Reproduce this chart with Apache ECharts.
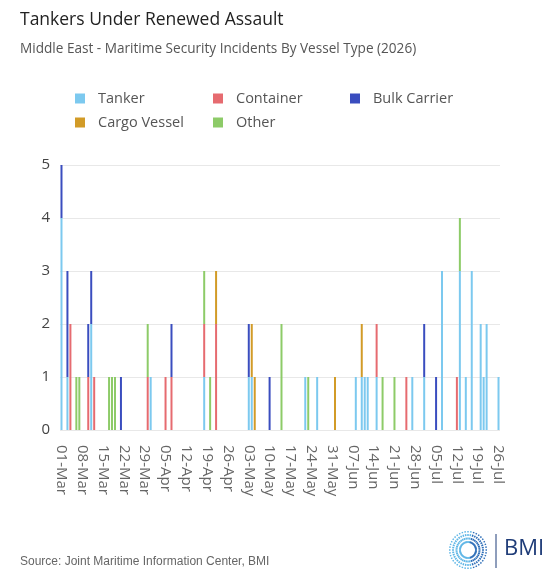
<!DOCTYPE html>
<html>
<head>
<meta charset="utf-8">
<script src="https://cdn.jsdelivr.net/npm/echarts@6/dist/echarts.min.js"></script>
<style>
  html, body { margin: 0; padding: 0; background: #fff; }
  #main { width: 560px; height: 582px; }
</style>
</head>
<body>
<div id="main"></div>
<script>
// categories: every day from 01-Mar to 26-Jul 2026
var monthNames = ['Jan', 'Feb', 'Mar', 'Apr', 'May', 'Jun', 'Jul', 'Aug', 'Sep', 'Oct', 'Nov', 'Dec'];
var dayCount = 148;
var categories = [];
for (var i = 0; i < dayCount; i++) {
    var d = new Date(2026, 2, 1 + i);
    categories.push((d.getDate() < 10 ? '0' : '') + d.getDate() + '-' + monthNames[d.getMonth()]);
}

// incidents per day, by vessel type [day, count]
var tanker = [
    ['01-Mar', 4], ['03-Mar', 1], ['11-Mar', 2], ['31-Mar', 1], ['18-Apr', 1],
    ['03-May', 1], ['04-May', 1], ['22-May', 1], ['26-May', 1], ['08-Jun', 1],
    ['10-Jun', 1], ['11-Jun', 1], ['12-Jun', 1], ['15-Jun', 1], ['27-Jun', 1],
    ['01-Jul', 1], ['07-Jul', 3], ['13-Jul', 3], ['15-Jul', 1], ['17-Jul', 3],
    ['20-Jul', 2], ['21-Jul', 1], ['22-Jul', 2], ['26-Jul', 1]
];
var container = [
    ['04-Mar', 2], ['10-Mar', 1], ['12-Mar', 1], ['30-Mar', 1], ['05-Apr', 1],
    ['07-Apr', 1], ['18-Apr', 1], ['22-Apr', 2], ['15-Jun', 1], ['25-Jun', 1],
    ['12-Jul', 1]
];
var bulkCarrier = [
    ['01-Mar', 1], ['03-Mar', 2], ['10-Mar', 1], ['11-Mar', 1], ['21-Mar', 1],
    ['07-Apr', 1], ['03-May', 1], ['10-May', 1], ['01-Jul', 1], ['05-Jul', 1]
];
var cargoVessel = [
    ['22-Apr', 1], ['04-May', 1], ['05-May', 1], ['01-Jun', 1], ['10-Jun', 1]
];
var other = [
    ['06-Mar', 1], ['07-Mar', 1], ['17-Mar', 1], ['18-Mar', 1], ['19-Mar', 1],
    ['30-Mar', 1], ['18-Apr', 1], ['20-Apr', 1], ['14-May', 2], ['23-May', 1],
    ['17-Jun', 1], ['21-Jun', 1], ['13-Jul', 1]
];

var seriesNames = ['Tanker', 'Container', 'Bulk Carrier', 'Cargo Vessel', 'Other'];
var seriesColors = ['#7cc9ef', '#e66b70', '#3a4dbf', '#d29b27', '#8dcb68'];
var yTicks = [0, 1, 2, 3, 4, 5];

function toDaily(pairs) {
    var arr = categories.map(function() { return '-'; });
    pairs.forEach(function(p) {
        arr[categories.indexOf(p[0])] = p[1];
    });
    return arr;
}

var chart = echarts.init(document.getElementById('main'));

var seriesData = [tanker, container, bulkCarrier, cargoVessel, other];
var series = seriesNames.map(function(name, i) {
    return {
        name: name,
        type: 'bar',
        stack: 'total',
        barWidth: 2,
        color: seriesColors[i],
        data: toDaily(seriesData[i])
    };
});

// BMI logo: radial dashes
var logo = [];
for (var k = 0; k < 40; k++) {
    var a = k / 40 * Math.PI * 2;
    logo.push({
        type: 'line',
        shape: {
            x1: 468 + Math.cos(a) * 7, y1: 550 + Math.sin(a) * 7,
            x2: 468 + Math.cos(a) * 19, y2: 550 + Math.sin(a) * 19
        },
        style: { stroke: Math.cos(a) > 0.3 ? '#2f6fb8' : '#5fb6e6', lineWidth: 1.5, lineDash: [2, 1.5] }
    });
}
logo.push({
    type: 'line',
    shape: { x1: 496, y1: 534, x2: 496, y2: 568 },
    style: { stroke: '#1f3c78', lineWidth: 1 }
});
logo.push({
    type: 'text',
    left: 504,
    top: 538,
    style: { text: 'BMI', fill: '#1f3c78', font: '22px "Open Sans", sans-serif' }
});
logo.push({
    type: 'text',
    left: 20,
    top: 556,
    style: { text: 'Source: Joint Maritime Information Center, BMI', fill: '#666', font: '12px "Liberation Sans", Arial, sans-serif' }
});

var legendBase = {
    icon: 'rect',
    itemWidth: 10,
    itemHeight: 10,
    orient: 'vertical',
    itemGap: 9,
    top: 86,
    textStyle: { color: '#555', fontSize: 14.5, fontFamily: '"Open Sans", sans-serif', padding: [0, 0, 0, 8] }
};

var option = {
    animation: false,
    title: {
        text: 'Tankers Under Renewed Assault',
        subtext: 'Middle East - Maritime Security Incidents By Vessel Type (2026)',
        left: 15,
        top: 6,
        itemGap: 13,
        textStyle: { color: '#222', fontSize: 17.5, fontWeight: 'normal', fontFamily: '"Open Sans", sans-serif' },
        subtextStyle: { color: '#555', fontSize: 13.6, fontFamily: '"Open Sans", sans-serif' }
    },
    legend: [
        Object.assign({}, legendBase, { left: 70, data: ['Tanker', 'Cargo Vessel'] }),
        Object.assign({}, legendBase, { left: 208, data: ['Container', 'Other'] }),
        Object.assign({}, legendBase, { left: 345, data: ['Bulk Carrier'] })
    ],
    grid: {
        left: 60,
        right: 60,
        top: 165,
        bottom: 152
    },
    xAxis: {
        type: 'category',
        data: categories,
        axisLine: { show: false },
        axisTick: { show: false },
        axisLabel: {
            rotate: -90,
            interval: 6,
            margin: 15,
            padding: [7, 0, 0, 0],
            color: '#666',
            fontSize: 15,
            fontFamily: '"Open Sans", sans-serif'
        }
    },
    yAxis: {
        type: 'value',
        min: yTicks[0],
        max: yTicks[yTicks.length - 1],
        interval: 1,
        axisLabel: {
            color: '#444',
            fontSize: 15,
            margin: 10,
            fontFamily: '"Open Sans", sans-serif'
        },
        splitLine: { lineStyle: { color: '#e8e8e8' } }
    },
    graphic: logo,
    series: series
};

chart.setOption(option);
</script>
</body>
</html>
